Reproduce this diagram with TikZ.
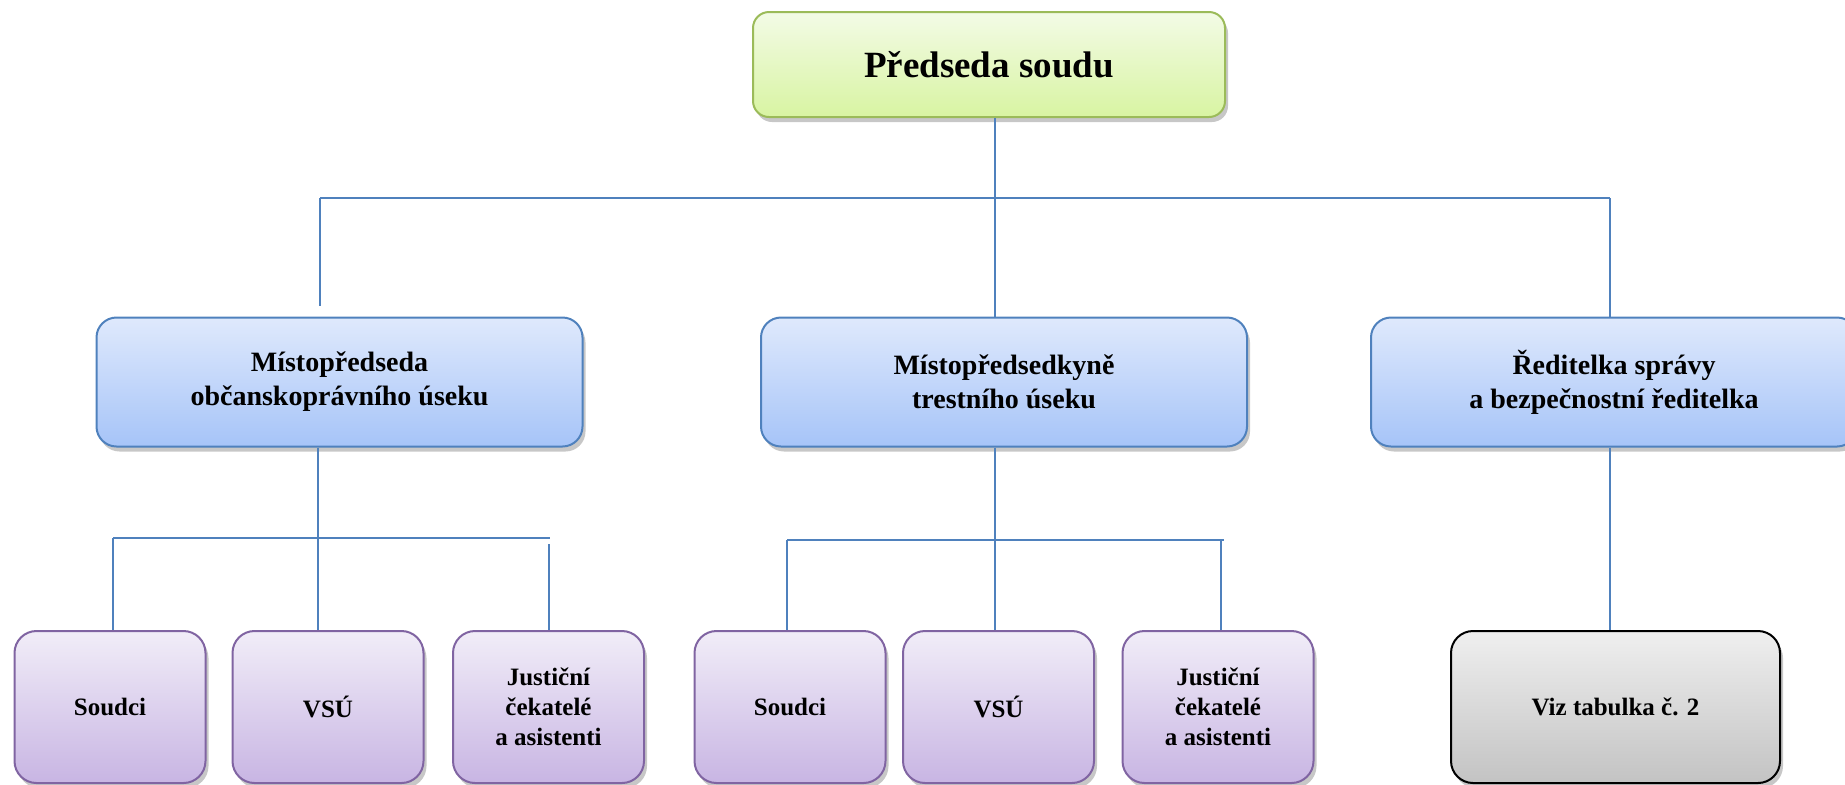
\documentclass[tikz,border=0pt]{standalone}
\usepackage{fontspec}
\setmainfont{Liberation Serif}
\usetikzlibrary{shadows}
\definecolor{lineblue}{HTML}{4F81BD}
\definecolor{gtop}{HTML}{F3FBE6}
\definecolor{gbot}{HTML}{D8F4A2}
\definecolor{gbord}{HTML}{9BBB59}
\definecolor{btop}{HTML}{DFE9FC}
\definecolor{bbot}{HTML}{A6C4F8}
\definecolor{bbord}{HTML}{4F81BD}
\definecolor{ptop}{HTML}{F1EDF8}
\definecolor{pbot}{HTML}{C8B5E3}
\definecolor{pbord}{HTML}{8064A2}
\definecolor{ktop}{HTML}{EFEFEF}
\definecolor{kbot}{HTML}{C3C3C3}
\tikzset{
  boxbase/.style={rectangle, draw, line width=1pt, inner sep=0pt, align=center,
    font=\bfseries, drop shadow={shadow xshift=1.5pt, shadow yshift=-2.5pt, opacity=0.22, fill=black}},
  topbox/.style={boxbase, draw=gbord, top color=gtop, bottom color=gbot, rounded corners=8pt,
    minimum width=236pt, minimum height=52.5pt, font=\bfseries\fontsize{18.5}{22}\selectfont},
  midbox/.style={boxbase, draw=bbord, top color=btop, bottom color=bbot, rounded corners=10pt,
    minimum width=243pt, minimum height=64.5pt, font=\bfseries\fontsize{14}{17}\selectfont},
  lowbox/.style={boxbase, draw=pbord, top color=ptop, bottom color=pbot, rounded corners=11pt,
    minimum width=95.5pt, minimum height=76pt, font=\bfseries\fontsize{12.5}{15}\selectfont},
  graybox/.style={boxbase, draw=black, top color=ktop, bottom color=kbot, rounded corners=11pt,
    minimum width=164.5pt, minimum height=76pt, font=\bfseries\fontsize{12.5}{15}\selectfont},
  conn/.style={draw=lineblue, line width=1pt}
}
\begin{document}
\begin{tikzpicture}[x=0.5pt, y=-0.5pt]
\useasboundingbox (0,0) rectangle (1845,784);
% nodes
\node[topbox] (top) at (989,64.5) {Předseda soudu};
\node[midbox] (mL) at (339.5,382) {Místopředseda\\občanskoprávního úseku};
\node[midbox] (mM) at (1004,382) {Místopředsedkyně\\trestního úseku};
\node[midbox] (mR) at (1614,382) {Ředitelka správy\\a bezpečnostní ředitelka};
\node[lowbox] (s1) at (110,707) {Soudci};
\node[lowbox] (v1) at (328,707) {VSÚ};
\node[lowbox] (j1) at (548.5,707) {Justiční\\čekatelé\\a asistenti};
\node[lowbox] (s2) at (790,707) {Soudci};
\node[lowbox] (v2) at (998.5,707) {VSÚ};
\node[lowbox] (j2) at (1218,707) {Justiční\\čekatelé\\a asistenti};
\node[graybox] (viz) at (1615.5,707) {Viz tabulka č. 2};
% junction coordinates
\coordinate (j0) at (995,198);
\coordinate (hL) at (320,198);
\coordinate (hR) at (1610,198);
\coordinate (hLe) at (320,306);
\coordinate (a0) at (318,538);
\coordinate (a1) at (113,538);
\coordinate (a2) at (550,538);
\coordinate (a3) at (549,544);
\coordinate (b0) at (995,540);
\coordinate (b1) at (787,540);
\coordinate (b2) at (1224,540);
\coordinate (b3) at (1221,540);
\coordinate (c0) at (1610,445);
% connectors
\draw[conn] (top.south -| j0) -- (mM.north -| j0);
\draw[conn] (hL) -- (hR);
\draw[conn] (hL) -- (hLe);
\draw[conn] (hR) -- (mR.north -| hR);
\draw[conn] (mL.south -| a0) -- (a0);
\draw[conn] (a1) -- (a2);
\draw[conn] (a1) -- (s1.north -| a1);
\draw[conn] (a0) -- (v1.north -| a0);
\draw[conn] (a3) -- (j1.north -| a3);
\draw[conn] (mM.south -| b0) -- (b0);
\draw[conn] (b1) -- (b2);
\draw[conn] (b1) -- (s2.north -| b1);
\draw[conn] (b0) -- (v2.north -| b0);
\draw[conn] (b3) -- (j2.north -| b3);
\draw[conn] (mR.south -| c0) -- (viz.north -| c0);
\end{tikzpicture}
\end{document}
